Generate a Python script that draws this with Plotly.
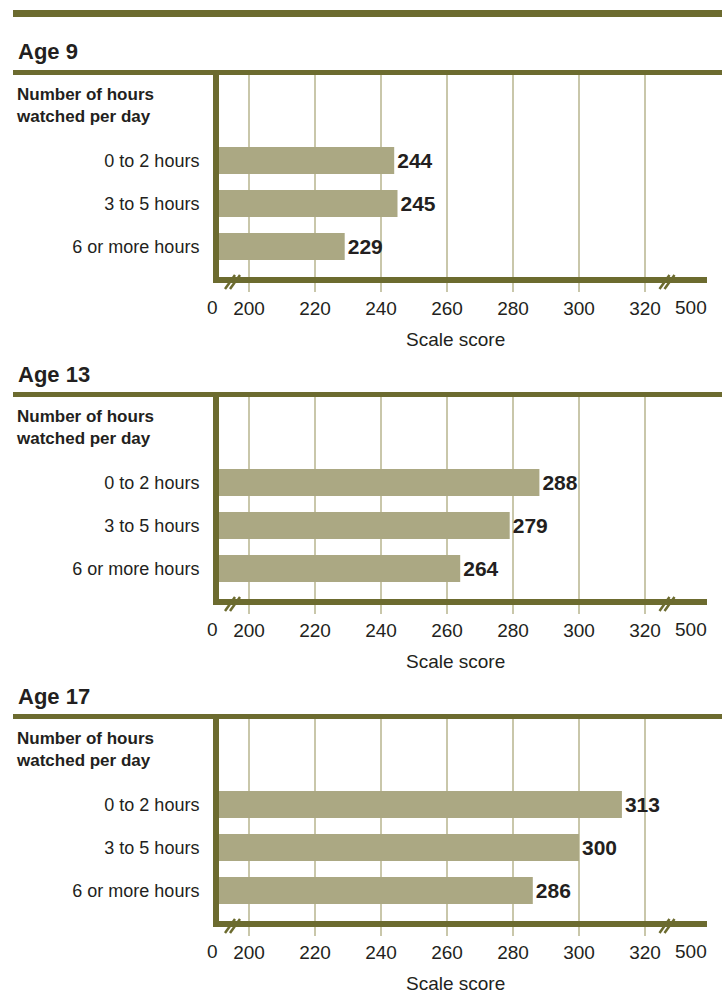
import plotly.graph_objects as go

AGES = ["Age 9", "Age 13", "Age 17"]
HOURS = ["0 to 2 hours", "3 to 5 hours", "6 or more hours"]
SCORES_AGE_9 = [244, 245, 229]
SCORES_AGE_13 = [288, 279, 264]
SCORES_AGE_17 = [313, 300, 286]
GRID_TICKS = [200, 220, 240, 260, 280, 300, 320]
BREAK_LABELS = ["0", "500"]
Y_HEADER = "Number of hours<br>watched per day"
X_TITLE = "Scale score"

W, H = 722, 994
OLIVE = "#6c6b2f"
BAR = "#aba883"
GRID = "#c9c7aa"
INK = "#231f20"
SANS = "Liberation Sans, Arial, sans-serif"

# geometry of the first panel in pixels, the others repeat every STEP px
PLOT_L, PLOT_R = 219, 707
PANEL_TOP, PANEL_BOTTOM, STEP = 75, 277, 322
PX_PER_UNIT = 3.3
PX_AT_200 = 249


def px_to_val(px):
    return 200 + (px - PX_AT_200) / PX_PER_UNIT


def ydom(px):
    # pixel row in panel 1 -> "y domain" fraction of any panel
    return (PANEL_BOTTOM - px) / (PANEL_BOTTOM - PANEL_TOP)


def xdom(px):
    return (px - PLOT_L) / (PLOT_R - PLOT_L)


scores = [SCORES_AGE_9, SCORES_AGE_13, SCORES_AGE_17]
fig = go.Figure()
shapes, annotations = [], []
layout = {}

for i, (age, vals) in enumerate(zip(AGES, scores)):
    n = "" if i == 0 else str(i + 1)
    top = PANEL_TOP + STEP * i
    bottom = PANEL_BOTTOM + STEP * i
    fig.add_trace(
        go.Bar(
            x=vals,
            y=list(range(len(HOURS))),
            orientation="h",
            width=0.63,
            marker=dict(color=BAR, line=dict(width=0)),
            text=[str(v) for v in vals],
            textposition="outside",
            textfont=dict(family=SANS, size=21, color=INK, weight="bold"),
            constraintext="none",
            cliponaxis=False,
            showlegend=False,
            hoverinfo="skip",
            xaxis="x" + n,
            yaxis="y" + n,
        )
    )
    layout["xaxis" + n] = dict(
        domain=[PLOT_L / W, PLOT_R / W],
        anchor="y" + n,
        range=[px_to_val(PLOT_L), px_to_val(PLOT_R)],
        tickvals=GRID_TICKS,
        ticktext=[str(t) for t in GRID_TICKS],
        ticks="outside",
        ticklen=9,
        tickwidth=1.5,
        tickcolor=GRID,
        tickfont=dict(family=SANS, size=19, color=INK),
        showgrid=True,
        gridcolor=GRID,
        gridwidth=1.5,
        showline=True,
        linecolor=OLIVE,
        linewidth=6,
        zeroline=False,
        fixedrange=True,
    )
    layout["yaxis" + n] = dict(
        domain=[1 - bottom / H, 1 - top / H],
        anchor="x" + n,
        range=[2.71, -1.99],
        tickvals=list(range(len(HOURS))),
        ticktext=HOURS,
        ticks="",
        ticklabelstandoff=10,
        tickfont=dict(family=SANS, size=18, color=INK),
        showgrid=False,
        showline=True,
        linecolor=OLIVE,
        linewidth=6,
        zeroline=False,
        fixedrange=True,
    )

    yref = "y" + n + " domain"
    # header rule across the panel
    shapes.append(dict(type="line", xref="paper", yref=yref, x0=13 / W, x1=1,
                       y0=ydom(72.5), y1=ydom(72.5), line=dict(color=OLIVE, width=5)))
    if i == 0:
        shapes.append(dict(type="line", xref="paper", yref=yref, x0=13 / W, x1=1,
                           y0=ydom(13.5), y1=ydom(13.5), line=dict(color=OLIVE, width=7)))
    # axis break marks
    for bx in (232.5, 667):
        for off in (-2.5, 2.5):
            shapes.append(dict(type="line", xref="x" + n, yref=yref,
                               x0=px_to_val(bx + off - 5), x1=px_to_val(bx + off + 5),
                               y0=ydom(289), y1=ydom(275),
                               line=dict(color=OLIVE, width=2.5)))
    annotations.append(dict(text=age, xref="paper", yref=yref, x=16 / W, y=ydom(52),
                            xanchor="left", yanchor="middle", showarrow=False,
                            font=dict(family=SANS, size=22, color=INK, weight="bold")))
    annotations.append(dict(text=Y_HEADER, xref="paper", yref=yref, x=14 / W, y=ydom(105),
                            xanchor="left", yanchor="middle", align="left", showarrow=False,
                            font=dict(family=SANS, size=17, color=INK, weight="bold")))
    for lab, px in zip(BREAK_LABELS, (212, 691)):
        annotations.append(dict(text=lab, xref="x" + n + " domain", yref=yref,
                                x=xdom(px), y=ydom(307.5), xanchor="center", yanchor="middle",
                                showarrow=False, font=dict(family=SANS, size=19, color=INK)))
    annotations.append(dict(text=X_TITLE, xref="paper", yref=yref, x=455 / W, y=ydom(339),
                            xanchor="center", yanchor="middle", showarrow=False,
                            font=dict(family=SANS, size=19, color=INK)))

fig.update_layout(
    **layout,
    width=W,
    height=H,
    margin=dict(l=0, r=0, t=0, b=0),
    plot_bgcolor="white",
    paper_bgcolor="white",
    shapes=shapes,
    annotations=annotations,
    bargap=0.37,
)

fig.write_html(
    "out.html",
    config={"displayModeBar": False},
    post_script="document.body.style.margin='0';",
)
